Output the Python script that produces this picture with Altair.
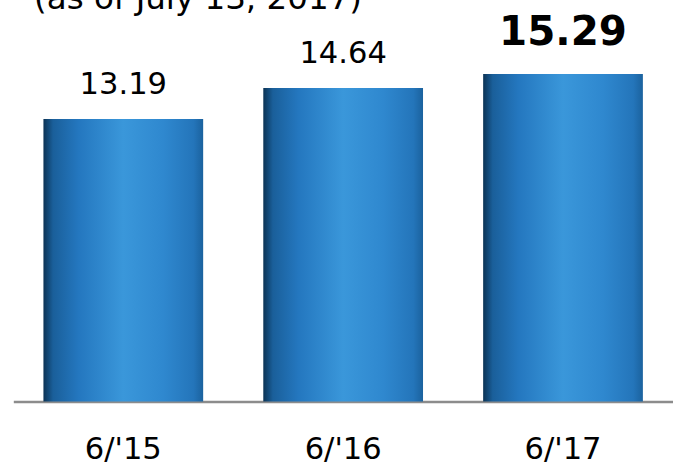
import altair as alt
import pandas as pd

# Half-year end figures (June of each year)
periods = ["6/'15", "6/'16", "6/'17"]
values = [13.19, 14.64, 15.29]
highlight = [False, False, True]

df = pd.DataFrame({"period": periods, "value": values, "latest": highlight})

FONT = "DejaVu Sans"

# Cylinder-like shading across each bar
cylinder = alt.Gradient(
    gradient="linear",
    x1=0, x2=1, y1=0, y2=0,
    stops=[
        alt.GradientStop(color="#0b3355", offset=0.0),
        alt.GradientStop(color="#1a5f9a", offset=0.06),
        alt.GradientStop(color="#2477bf", offset=0.22),
        alt.GradientStop(color="#3a97da", offset=0.5),
        alt.GradientStop(color="#2f88cf", offset=0.75),
        alt.GradientStop(color="#2475ba", offset=0.94),
        alt.GradientStop(color="#1b629e", offset=1.0),
    ],
)

x_enc = alt.X(
    "period:N",
    sort=periods,
    scale=alt.Scale(paddingInner=0.2735, paddingOuter=0.137),
    axis=alt.Axis(
        title=None,
        labelAngle=0,
        ticks=False,
        grid=False,
        labelFont=FONT,
        labelFontSize=31,
        labelColor="#000000",
        labelBaseline="top",
        labelPadding=34,
        domainColor="#8c8c8c",
        domainWidth=2.5,
    ),
)
y_enc = alt.Y(
    "value:Q",
    scale=alt.Scale(domain=[0, 16.751], nice=False, zero=True),
    axis=None,
)

bars = alt.Chart(df).mark_bar(color=cylinder).encode(x=x_enc, y=y_enc)

labels = (
    alt.Chart(df)
    .transform_filter("!datum.latest")
    .mark_text(font=FONT, fontSize=31, baseline="alphabetic", dy=-25, color="#000000")
    .encode(x=alt.X("period:N", sort=periods), y="value:Q", text=alt.Text("value:Q", format=".2f"))
)

latest_label = (
    alt.Chart(df)
    .transform_filter("datum.latest")
    .mark_text(font=FONT, fontSize=41, fontWeight="bold", baseline="alphabetic", dy=-29, color="#000000")
    .encode(x=alt.X("period:N", sort=periods), y="value:Q", text=alt.Text("value:Q", format=".2f"))
)

chart = (
    alt.layer(bars, labels, latest_label)
    .properties(
        width=669,
        height=364,
        autosize=alt.AutoSizeParams(type="none"),
        padding={"left": 13.5, "top": 40, "right": 0, "bottom": 60},
        title=alt.TitleParams(
            "(as of July 13, 2017)",
            anchor="start",
            font=FONT,
            fontSize=33,
            fontWeight="normal",
            color="#000000",
            baseline="alphabetic",
            offset=-29,
            dx=21,
        ),
    )
    .configure_view(stroke=None)
)

chart.save("out.html", embed_options={"renderer": "svg", "actions": False})
